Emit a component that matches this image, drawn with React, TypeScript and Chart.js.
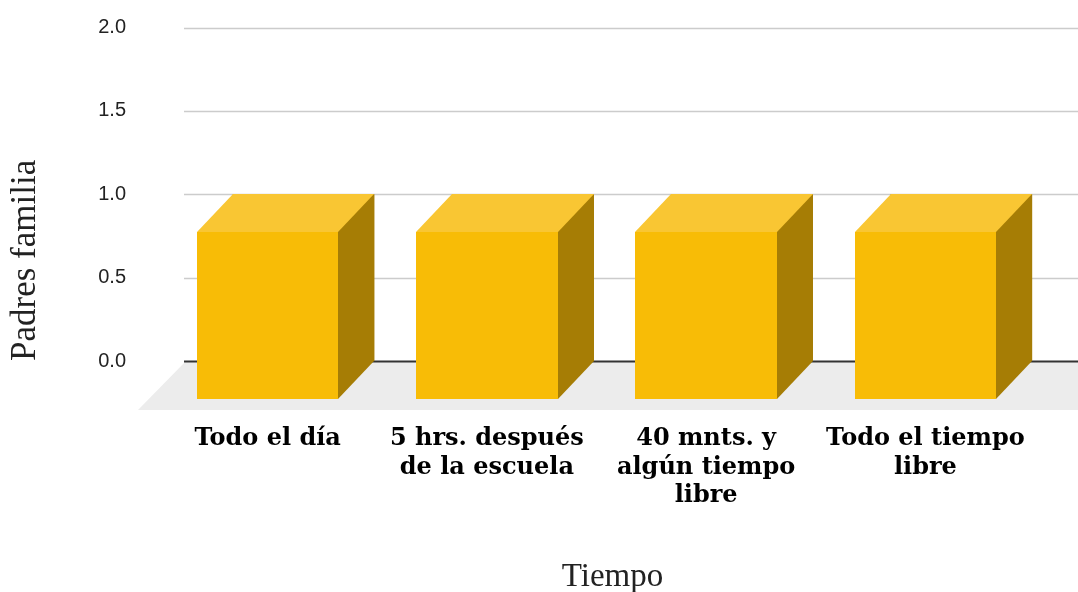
import React, { useEffect, useRef } from 'react';
import { Chart, registerables } from 'chart.js';

Chart.register(...registerables);

// ---- data ----
const categories: string[][] = [
  ['Todo el día'],
  ['5 hrs. después', 'de la escuela'],
  ['40 mnts. y', 'algún tiempo', 'libre'],
  ['Todo el tiempo', 'libre'],
];
const values: number[] = [1, 1, 1, 1];
const yMin = 0;
const yMax = 2;
const yStep = 0.5;
const yTitle = 'Padres familia';
const xTitle = 'Tiempo';

// ---- style ----
const W = 1078;
const H = 592;
const DX = 36; // bar depth (horizontal)
const DY = 38; // bar depth (vertical)
const FLOOR_DX = 47;
const FLOOR_DY = 48;
const COL_FRONT = '#F8BC06';
const COL_TOP = '#F9C633';
const COL_SIDE = '#A67D05';
const COL_FLOOR = '#ECECEC';
const COL_GRID = '#CCCCCC';
const COL_BASE = '#333333';

const scene3d = {
  id: 'scene3d',
  beforeDatasetsDraw(chart: any) {
    const { ctx, chartArea } = chart;
    const y = chart.scales.y;
    const base = Math.round(y.getPixelForValue(0));
    // floor
    ctx.save();
    ctx.fillStyle = COL_FLOOR;
    ctx.beginPath();
    ctx.moveTo(chartArea.left - 9, base + 1);
    ctx.lineTo(chartArea.left - 9 + 960, base + 1);
    ctx.lineTo(chartArea.left - 9 + 960 - FLOOR_DX, base + 1 + FLOOR_DY);
    ctx.lineTo(chartArea.left - 9 - FLOOR_DX, base + 1 + FLOOR_DY);
    ctx.closePath();
    ctx.fill();
    // grid lines
    const gl = chartArea.left - 10;
    const gr = chart.width;
    y.ticks.forEach((t: any) => {
      const py = Math.round(y.getPixelForValue(t.value)) + 0.5;
      ctx.beginPath();
      if (t.value === 0) {
        ctx.strokeStyle = COL_BASE;
        ctx.lineWidth = 2;
      } else {
        ctx.strokeStyle = COL_GRID;
        ctx.lineWidth = 1.5;
      }
      ctx.moveTo(gl, py);
      ctx.lineTo(gr, py);
      ctx.stroke();
    });
    ctx.restore();
  },
  afterDatasetsDraw(chart: any) {
    const { ctx } = chart;
    const meta = chart.getDatasetMeta(0);
    ctx.save();
    meta.data.forEach((el: any) => {
      const p = el.getProps(['x', 'y', 'base', 'width'], true);
      const l = Math.round(p.x - p.width / 2);
      const r = Math.round(p.x + p.width / 2);
      const y = Math.round(p.y);
      const base = Math.round(p.base);
      // side
      ctx.fillStyle = COL_SIDE;
      ctx.beginPath();
      ctx.moveTo(r - DX, y + DY);
      ctx.lineTo(r, y);
      ctx.lineTo(r, base);
      ctx.lineTo(r - DX, base + DY);
      ctx.closePath();
      ctx.fill();
      // top
      ctx.fillStyle = COL_TOP;
      ctx.beginPath();
      ctx.moveTo(l - DX, y + DY);
      ctx.lineTo(l, y);
      ctx.lineTo(r, y);
      ctx.lineTo(r - DX, y + DY);
      ctx.closePath();
      ctx.fill();
      // front
      ctx.fillStyle = COL_FRONT;
      ctx.fillRect(l - DX, y + DY, r - l, base - y);
    });
    ctx.restore();
  },
  afterDraw(chart: any) {
    const { ctx, chartArea } = chart;
    ctx.save();
    ctx.fillStyle = '#222222';
    ctx.font = '33px "Liberation Serif", serif';
    ctx.textAlign = 'center';
    ctx.textBaseline = 'alphabetic';
    ctx.fillText(xTitle, (chartArea.left + chartArea.right) / 2 - 20, 586);
    ctx.restore();
  },
};

export default function App() {
  const ref = useRef<HTMLCanvasElement | null>(null);
  useEffect(() => {
    if (!ref.current) return;
    const chart = new Chart(ref.current, {
      type: 'bar',
      data: {
        labels: categories,
        datasets: [
          {
            data: values,
            backgroundColor: COL_SIDE,
            borderWidth: 0,
            categoryPercentage: 1,
            barPercentage: 0.646,
          },
        ],
      },
      options: {
        responsive: false,
        animation: false,
        devicePixelRatio: 1,
        layout: { padding: { top: 27.5, right: 7, left: 0, bottom: 0 } },
        plugins: { legend: { display: false }, tooltip: { enabled: false } },
        scales: {
          x: {
            type: 'category',
            offset: true,
            grid: { display: false, drawTicks: false },
            border: { display: false },
            ticks: {
              color: '#000000',
              font: { family: '"DejaVu Serif", serif', weight: 'bold', size: 24, lineHeight: 1.18 },
              padding: 64,
              labelOffset: -DX,
              maxRotation: 0,
              minRotation: 0,
              autoSkip: false,
            },
            afterFit: (s: any) => {
              s.height = 231;
              s.paddingLeft = 0;
              s.paddingRight = 0;
            },
          },
          y: {
            min: yMin,
            max: yMax,
            grid: { display: false, drawTicks: false },
            border: { display: false },
            ticks: {
              stepSize: yStep,
              color: '#222222',
              font: { family: '"Liberation Sans", Arial, sans-serif', size: 20 },
              padding: 68,
              callback: (v: any) => Number(v).toFixed(1),
            },
            title: {
              display: true,
              text: yTitle,
              align: 'start',
              color: '#222222',
              font: { family: '"Liberation Serif", serif', size: 35, lineHeight: 1.2 },
              padding: { top: 5, bottom: 0 },
            },
            afterFit: (s: any) => {
              s.width = 194;
              s.paddingTop = 0;
              s.paddingBottom = 0;
            },
          },
        },
      },
      plugins: [scene3d],
    } as any);
    return () => chart.destroy();
  }, []);
  return (
    <div style={{ position: 'absolute', left: 0, top: 0, width: W, height: H, background: '#ffffff' }}>
      <canvas ref={ref} width={W} height={H} style={{ display: 'block' }} />
    </div>
  );
}
